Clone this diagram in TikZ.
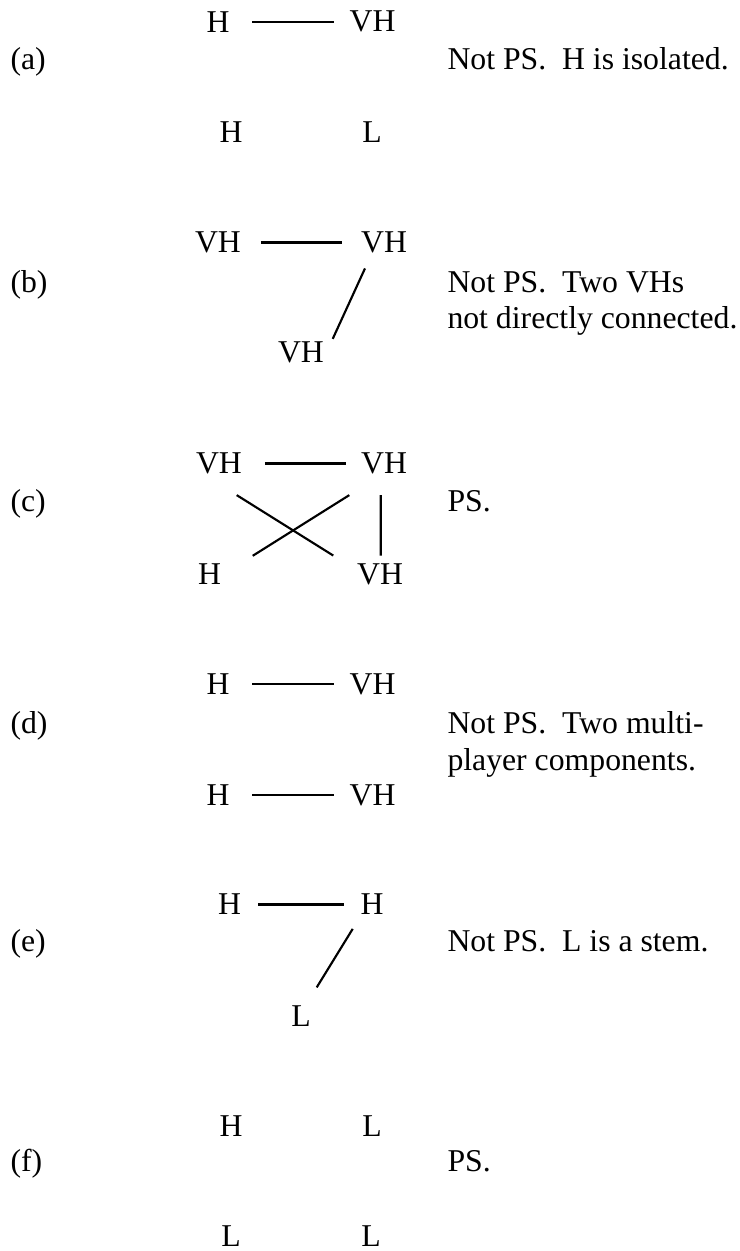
\documentclass[tikz,border=0pt]{standalone}
\usepackage{fontspec}
\setmainfont{Liberation Serif}

\tikzset{
  player/.style={inner sep=0pt, outer sep=0pt, font=\fontsize{23.8}{27.5}\selectfont},
  caption/.style={player, anchor=base west, align=left},
  link/.style={line width=1.6pt},
}

\begin{document}
\begin{tikzpicture}[x=0.75pt,y=-0.75pt]
        \useasboundingbox (0,0) rectangle (739,1251);
        % Captions (two-line texts sit on the baseline of their last line)
        \node[caption] (la) at (10.5,69.5) {(a)};
        \node[caption] (ta) at (447.5,69.5) {Not PS.\ \ H is isolated.};
        \node[caption] (lb) at (10.5,292.5) {(b)};
        \node[caption] (tb) at (447.5,329) {Not PS.\ \ Two VHs\\not directly connected.};
        \node[caption] (lc) at (10.5,511.5) {(c)};
        \node[caption] (tc) at (447.5,511.5) {PS.};
        \node[caption] (ld) at (10.5,733.5) {(d)};
        \node[caption] (td) at (447.5,770) {Not PS.\ \ Two multi-\\player components.};
        \node[caption] (le) at (10.5,951.5) {(e)};
        \node[caption] (te) at (447.5,951.5) {Not PS.\ \ L is a stem.};
        \node[caption] (lf) at (10.5,1171.5) {(f)};
        \node[caption] (tf) at (447.5,1171.5) {PS.};
        % Vertices
        \node[player] (a1) at (218,21.7) {H};
        \node[player] (a2) at (372.5,21.7) {VH};
        \node[player] (a3) at (231,132.5) {H};
        \node[player] (a4) at (372,132.5) {L};
        \node[player] (b1) at (218,242.5) {VH};
        \node[player] (b2) at (384,242.5) {VH};
        \node[player] (b3) at (301,352.5) {VH};
        \node[player] (c1) at (219,463.5) {VH};
        \node[player] (c2) at (384,463.5) {VH};
        \node[player] (c3) at (209.5,574) {H};
        \node[player] (c4) at (380,574) {VH};
        \node[player] (d1) at (218,684) {H};
        \node[player] (d2) at (372.5,684) {VH};
        \node[player] (d3) at (218,795) {H};
        \node[player] (d4) at (372.5,795) {VH};
        \node[player] (e1) at (229.5,904.5) {H};
        \node[player] (e2) at (372,904.5) {H};
        \node[player] (e3) at (301,1016) {L};
        \node[player] (f1) at (231,1126) {H};
        \node[player] (f2) at (372,1126) {L};
        \node[player] (f3) at (231,1236) {L};
        \node[player] (f4) at (371,1236) {L};
        % Edges
        \draw[link, shorten <=17.2pt, shorten >=11.7pt] (a1) -- (a2);
        \draw[link, shorten <=14.9pt, shorten >=14.1pt] (b1) -- (b2);
        \draw[link] ([shift={(3.9,15.3)}]b2.south west) -- ([shift={(8.8,-3)}]b3.north east);
        \draw[link, shorten <=17.3pt, shorten >=11.6pt] (c1) -- (c2);
        \draw[link] ([shift={(-5.2,21)}]c1.south east) -- ([shift={(-23.8,-7.8)}]c4.north west);
        \draw[link] ([shift={(31.75,-7.8)}]c3.north east) -- ([shift={(-11.8,21)}]c2.south west);
        \draw[link] ([shift={(-3.3,21)}]c2.south) -- ([shift={(0.7,-7.8)}]c4.north);
        \draw[link, shorten <=17.2pt, shorten >=11.7pt] (d1) -- (d2);
        \draw[link, shorten <=17.2pt, shorten >=11.7pt] (d3) -- (d4);
        \draw[link, shorten <=13pt, shorten >=12.4pt] (e1) -- (e2);
        \draw[link] ([shift={(-7.85,14)}]e2.south west) -- ([shift={(6,-18.2)}]e3.north east);
    \end{tikzpicture}
\end{document}
